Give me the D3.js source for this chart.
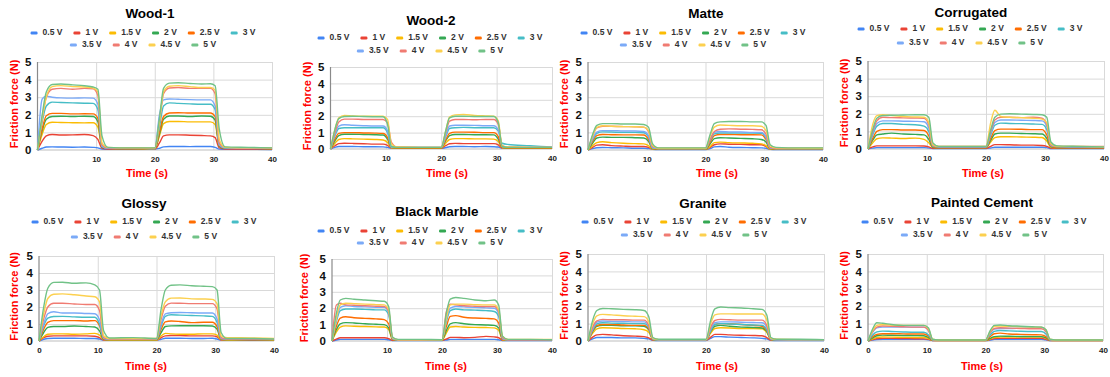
<!DOCTYPE html>
<html>
<head>
<meta charset="utf-8">
<script src="https://cdn.jsdelivr.net/npm/d3@7"></script>
<style>
  body { margin: 0; background: #fff; }
  svg { font-family: "Liberation Sans", Arial, sans-serif; }
</style>
</head>
<body>
<svg id="chart" width="1110" height="377"></svg>
<script>
// sample times (s), shared by every series
const times = [0, 0.8, 1.5, 2.5, 4, 6, 8, 9.5, 10.3, 11, 12, 16, 20, 20.8, 21.5, 22.5, 24, 26, 28, 29.5, 30.3, 31, 32, 36, 40];

const seriesNames = ["0.5 V", "1 V", "1.5 V", "2 V", "2.5 V", "3 V", "3.5 V", "4 V", "4.5 V", "5 V"];
const colors = ["#4285f4", "#ea4335", "#fbbc04", "#34a853", "#ff6d01", "#46bdc6", "#7baaf7", "#f07b72", "#fcd04f", "#71c287"];
const surfaces = ["Wood-1", "Wood-2", "Matte", "Corrugated", "Glossy", "Black Marble", "Granite", "Painted Cement"];
const yTicks = [0, 1, 2, 3, 4, 5];

// friction force (N), one row per voltage
const wood1 = [
  [0, .1, .17, .18, .17, .16, .17, .15, .12, .05, .04, .05, .05, .1, .18, .2, .2, .19, .2, .2, .15, .05, .04, .04, .03],
  [0, .5, .8, .88, .85, .86, .88, .82, .6, .1, .06, .05, .05, .4, .8, .86, .86, .84, .82, .8, .7, .12, .06, .05, .05],
  [0, .9, 1.45, 1.58, 1.56, 1.55, 1.54, 1.55, 1.3, .2, .1, .08, .07, .8, 1.5, 1.62, 1.62, 1.6, 1.6, 1.6, 1.45, .25, .12, .1, .08],
  [0, 1.1, 1.75, 1.9, 1.92, 1.9, 1.92, 1.9, 1.6, .15, .1, .08, .08, .9, 1.75, 1.93, 1.93, 1.9, 1.93, 1.92, 1.7, .2, .1, .1, .08],
  [0, 1.2, 1.95, 2.08, 2.08, 2.05, 2.06, 2.05, 1.8, .2, .1, .1, .08, 1.0, 1.9, 2.1, 2.12, 2.1, 2.1, 2.1, 1.9, .25, .12, .1, .08],
  [0, 1.6, 2.5, 2.72, 2.7, 2.68, 2.66, 2.65, 2.3, .2, .1, .1, .08, 1.3, 2.5, 2.68, 2.65, 2.62, 2.6, 2.6, 2.3, .3, .12, .1, .1],
  [0, 2.9, 3.05, 3.0, 2.96, 2.95, 2.96, 2.95, 2.6, .2, .1, .1, .08, 2.0, 2.85, 2.9, 2.88, 2.86, 2.85, 2.85, 2.5, .3, .12, .1, .1],
  [0, 1.8, 3.0, 3.45, 3.5, 3.45, 3.5, 3.48, 3.1, .3, .12, .1, .1, 1.6, 3.2, 3.52, 3.55, 3.5, 3.5, 3.5, 3.2, .4, .15, .12, .12],
  [0, 1.8, 3.0, 3.6, 3.66, 3.6, 3.58, 3.52, 3.3, .4, .15, .12, .12, 1.6, 3.3, 3.62, 3.66, 3.6, 3.55, 3.55, 3.4, .6, .15, .12, .12],
  [0, 2.0, 3.3, 3.72, 3.75, 3.7, 3.65, 3.58, 3.45, .8, .15, .12, .12, 1.8, 3.5, 3.8, 3.82, 3.78, 3.75, 3.76, 3.65, 1.2, .18, .15, .12]
];
const wood2 = [
  [0, .1, .15, .15, .15, .14, .14, .13, .1, .05, .04, .04, .04, .08, .14, .15, .15, .14, .15, .14, .12, .05, .04, .04, .04],
  [0, .2, .33, .35, .34, .32, .3, .3, .22, .06, .05, .05, .05, .2, .32, .34, .33, .33, .33, .33, .25, .06, .05, .05, .05],
  [0, .35, .58, .63, .62, .6, .58, .55, .4, .08, .06, .06, .06, .35, .58, .63, .63, .62, .62, .6, .45, .08, .06, .06, .06],
  [0, .5, .82, .9, .9, .88, .87, .85, .6, .1, .07, .07, .07, .5, .82, .88, .88, .87, .87, .86, .6, .1, .07, .07, .07],
  [0, .6, .95, 1.0, 1.0, .98, .97, .95, .7, .1, .08, .08, .08, .55, .95, 1.03, 1.03, 1.02, 1.0, 1.0, .75, .1, .08, .08, .08],
  [0, .8, 1.25, 1.3, 1.3, 1.3, 1.3, 1.3, 1.0, .12, .1, .1, .1, .75, 1.25, 1.3, 1.32, 1.3, 1.3, 1.3, 1.1, .35, .28, .2, .12],
  [0, .9, 1.4, 1.48, 1.45, 1.42, 1.4, 1.4, 1.1, .12, .1, .1, .1, .8, 1.4, 1.45, 1.45, 1.44, 1.42, 1.42, 1.15, .15, .1, .1, .1],
  [0, 1.0, 1.65, 1.82, 1.82, 1.8, 1.8, 1.8, 1.6, .4, .12, .1, .1, 1.0, 1.7, 1.8, 1.8, 1.78, 1.8, 1.8, 1.5, .2, .12, .1, .1],
  [0, 1.2, 1.9, 2.05, 2.02, 2.0, 2.0, 2.0, 1.8, .3, .12, .1, .1, 1.1, 1.95, 2.08, 2.1, 2.05, 2.02, 2.0, 1.7, .2, .12, .1, .1],
  [0, 1.2, 1.85, 1.98, 2.0, 1.98, 1.97, 1.97, 1.5, .15, .1, .1, .1, 1.1, 1.9, 2.0, 2.0, 1.98, 1.98, 1.98, 1.6, .15, .1, .1, .1]
];
const matte = [
  [0, .08, .13, .14, .13, .12, .1, .1, .08, .04, .03, .03, .03, .08, .18, .2, .16, .14, .13, .12, .1, .04, .03, .03, .03],
  [0, .15, .28, .3, .25, .22, .2, .2, .15, .05, .04, .04, .04, .15, .3, .35, .33, .32, .3, .3, .2, .05, .04, .04, .04],
  [0, .25, .42, .47, .42, .38, .36, .35, .25, .05, .04, .04, .04, .2, .42, .45, .42, .4, .38, .35, .25, .05, .04, .04, .04],
  [0, .4, .68, .73, .72, .72, .7, .68, .5, .08, .05, .05, .05, .35, .65, .7, .68, .66, .64, .6, .45, .08, .05, .05, .05],
  [0, .5, .82, .88, .87, .86, .86, .85, .6, .1, .06, .06, .06, .45, .82, .88, .88, .87, .87, .86, .6, .1, .06, .06, .06],
  [0, .6, .95, 1.03, 1.02, 1.0, 1.0, .98, .75, .12, .08, .08, .08, .55, .92, .97, .97, .96, .96, .95, .7, .12, .08, .08, .08],
  [0, .65, 1.02, 1.1, 1.1, 1.08, 1.08, 1.05, .8, .12, .08, .08, .08, .6, 1.0, 1.05, 1.03, 1.02, 1.0, 1.0, .75, .12, .08, .08, .08],
  [0, .8, 1.25, 1.35, 1.35, 1.33, 1.32, 1.3, 1.05, .2, .1, .1, .1, .6, 1.05, 1.18, 1.2, 1.18, 1.17, 1.15, .9, .15, .1, .1, .1],
  [0, .8, 1.28, 1.38, 1.35, 1.33, 1.32, 1.3, 1.1, .25, .1, .1, .1, .8, 1.3, 1.42, 1.4, 1.38, 1.38, 1.35, 1.1, .25, .12, .1, .1],
  [0, .9, 1.4, 1.5, 1.5, 1.48, 1.48, 1.45, 1.3, .35, .12, .12, .12, .9, 1.5, 1.6, 1.62, 1.62, 1.6, 1.6, 1.4, .3, .15, .12, .12]
];
const corrugated = [
  [0, .05, .08, .08, .08, .08, .08, .08, .06, .03, .03, .03, .03, .06, .1, .1, .1, .1, .1, .1, .08, .03, .03, .03, .03],
  [0, .12, .18, .18, .18, .18, .18, .17, .12, .04, .04, .04, .04, .15, .25, .25, .24, .22, .22, .2, .15, .05, .04, .04, .04],
  [0, .35, .58, .63, .62, .6, .62, .55, .35, .1, .08, .08, .08, .4, .65, .7, .7, .68, .67, .65, .45, .1, .08, .08, .08],
  [0, .5, .8, .85, .9, .85, .83, .8, .55, .1, .08, .08, .08, .5, .85, .9, .9, .88, .87, .85, .6, .12, .08, .08, .08],
  [0, .6, 1.0, 1.1, 1.1, 1.08, 1.08, 1.05, .75, .12, .1, .1, .1, .6, 1.05, 1.13, 1.13, 1.12, 1.1, 1.1, .8, .15, .1, .1, .1],
  [0, .8, 1.3, 1.45, 1.45, 1.4, 1.38, 1.3, 1.0, .15, .12, .12, .12, .8, 1.35, 1.47, 1.45, 1.44, 1.42, 1.4, 1.1, .2, .12, .12, .12],
  [0, .9, 1.45, 1.6, 1.6, 1.58, 1.57, 1.55, 1.2, .2, .12, .12, .12, .9, 1.5, 1.65, 1.65, 1.63, 1.62, 1.6, 1.3, .2, .15, .12, .12],
  [0, 1.0, 1.6, 1.8, 1.78, 1.77, 1.76, 1.75, 1.4, .2, .15, .15, .15, 1.0, 1.65, 1.8, 1.8, 1.78, 1.8, 1.75, 1.4, .25, .15, .15, .15],
  [0, 1.4, 1.9, 1.95, 1.9, 1.85, 1.82, 1.8, 1.5, .25, .15, .15, .15, 1.5, 2.2, 1.85, 1.8, 1.78, 1.75, 1.7, 1.5, .3, .15, .15, .12],
  [0, 1.1, 1.75, 1.9, 1.92, 1.93, 1.95, 1.95, 1.8, .35, .15, .15, .15, 1.1, 1.8, 1.98, 2.0, 1.98, 1.96, 1.95, 1.8, .4, .18, .15, .12]
];
const glossy = [
  [0, .1, .15, .16, .16, .16, .15, .15, .12, .05, .04, .04, .04, .1, .16, .16, .16, .15, .15, .16, .12, .05, .04, .04, .04],
  [0, .2, .28, .3, .3, .3, .3, .28, .2, .06, .05, .05, .05, .2, .3, .32, .32, .3, .3, .3, .25, .06, .05, .05, .05],
  [0, .25, .4, .42, .42, .4, .42, .45, .35, .08, .06, .06, .06, .3, .45, .42, .4, .4, .42, .42, .35, .08, .06, .08, .06],
  [0, .5, .8, .85, .85, .88, .85, .82, .6, .1, .08, .08, .08, .5, .85, .89, .9, .9, .9, .88, .7, .1, .08, .08, .08],
  [0, .7, 1.1, 1.2, 1.2, 1.2, 1.18, 1.2, .9, .12, .1, .1, .1, .7, 1.12, 1.18, 1.15, 1.08, 1.1, 1.1, .85, .12, .1, .1, .1],
  [0, .9, 1.35, 1.44, 1.45, 1.42, 1.4, 1.4, 1.0, .15, .1, .1, .1, .9, 1.45, 1.54, 1.52, 1.5, 1.48, 1.45, 1.1, .15, .1, .1, .1],
  [0, 1.0, 1.6, 1.72, 1.65, 1.65, 1.62, 1.6, 1.25, .15, .1, .1, .1, 1.0, 1.6, 1.66, 1.68, 1.66, 1.65, 1.65, 1.3, .15, .12, .1, .1],
  [0, 1.3, 2.0, 2.22, 2.22, 2.18, 2.15, 2.15, 1.8, .2, .12, .12, .12, 1.3, 2.05, 2.23, 2.22, 2.2, 2.2, 2.2, 1.9, .2, .12, .12, .12],
  [0, 1.6, 2.5, 2.75, 2.77, 2.72, 2.65, 2.6, 2.3, .3, .15, .15, .15, 1.5, 2.3, 2.52, 2.53, 2.48, 2.47, 2.45, 2.2, .3, .2, .18, .15],
  [0, 2.0, 3.1, 3.45, 3.46, 3.4, 3.42, 3.3, 3.0, .6, .18, .2, .15, 1.9, 3.0, 3.28, 3.3, 3.25, 3.22, 3.2, 3.0, .5, .15, .15, .12]
];
const blackMarble = [
  [0, .06, .1, .1, .1, .1, .1, .1, .08, .03, .03, .03, .03, .06, .1, .1, .1, .1, .1, .1, .08, .03, .03, .03, .03],
  [0, .12, .2, .2, .2, .2, .2, .2, .15, .04, .04, .04, .04, .12, .22, .22, .2, .22, .28, .25, .2, .05, .04, .04, .04],
  [0, .55, .85, .92, .9, .88, .86, .85, .7, .1, .05, .05, .05, .5, .85, .88, .85, .83, .82, .8, .65, .08, .05, .05, .05],
  [0, .7, 1.05, 1.12, 1.1, 1.05, 1.02, 1.0, .8, .1, .06, .06, .06, .65, 1.05, 1.12, 1.05, 1.0, .98, .95, .8, .1, .06, .06, .06],
  [0, .9, 1.4, 1.48, 1.42, 1.38, 1.35, 1.3, 1.05, .12, .06, .06, .06, .9, 1.5, 1.55, 1.45, 1.4, 1.38, 1.35, 1.1, .12, .06, .06, .06],
  [0, 1.2, 1.85, 1.95, 1.95, 1.93, 1.9, 1.9, 1.6, .15, .08, .08, .08, 1.2, 1.85, 1.95, 1.9, 1.88, 1.85, 1.8, 1.5, .15, .08, .08, .08],
  [0, 1.3, 2.05, 2.15, 2.1, 2.08, 2.06, 2.05, 1.75, .15, .08, .08, .08, 1.3, 2.0, 2.1, 2.08, 2.05, 2.02, 2.0, 1.7, .15, .08, .08, .08],
  [0, 2.2, 2.3, 2.2, 2.18, 2.15, 2.12, 2.1, 1.8, .2, .08, .08, .08, 1.8, 2.25, 2.2, 2.15, 2.12, 2.1, 2.1, 1.8, .2, .08, .08, .08],
  [0, 1.4, 2.2, 2.3, 2.28, 2.25, 2.22, 2.2, 1.9, .2, .08, .08, .08, 1.4, 2.2, 2.25, 2.25, 2.22, 2.2, 2.2, 1.9, .3, .1, .1, .1],
  [0, 1.7, 2.5, 2.6, 2.55, 2.5, 2.45, 2.42, 2.1, .25, .1, .1, .08, 1.7, 2.55, 2.65, 2.6, 2.5, 2.45, 2.5, 2.2, .3, .1, .1, .08]
];
const granite = [
  [0, .12, .2, .2, .2, .18, .18, .15, .12, .04, .03, .03, .03, .15, .25, .25, .22, .2, .18, .15, .12, .04, .03, .03, .03],
  [0, .22, .35, .38, .35, .3, .28, .25, .18, .05, .04, .04, .04, .22, .38, .38, .35, .33, .32, .3, .2, .05, .04, .04, .04],
  [0, .45, .7, .76, .75, .72, .7, .65, .5, .08, .05, .05, .05, .45, .72, .76, .75, .72, .72, .7, .5, .08, .05, .05, .05],
  [0, .55, .85, .9, .9, .88, .88, .85, .65, .1, .06, .06, .06, .55, .85, .9, .85, .8, .78, .75, .55, .1, .06, .06, .06],
  [0, .6, .9, .95, .95, .92, .9, .9, .7, .1, .06, .06, .06, .6, .95, 1.0, .98, .95, .9, .85, .6, .1, .06, .06, .06],
  [0, .65, .98, 1.05, 1.03, 1.02, 1.0, 1.0, .78, .1, .06, .06, .06, .6, .95, 1.0, .98, .95, .92, .9, .65, .1, .06, .06, .06],
  [0, .7, 1.08, 1.15, 1.13, 1.12, 1.1, 1.1, .85, .12, .07, .07, .07, .7, 1.05, 1.1, 1.1, 1.08, 1.06, 1.05, .8, .12, .07, .07, .07],
  [0, .8, 1.15, 1.24, 1.22, 1.22, 1.2, 1.2, .9, .15, .08, .08, .08, .8, 1.18, 1.24, 1.22, 1.2, 1.2, 1.2, .9, .15, .08, .08, .08],
  [0, 1.0, 1.45, 1.53, 1.5, 1.45, 1.42, 1.4, 1.1, .15, .08, .08, .08, 1.0, 1.5, 1.56, 1.56, 1.55, 1.55, 1.55, 1.2, .15, .1, .08, .08],
  [0, 1.2, 1.75, 1.87, 1.85, 1.82, 1.8, 1.75, 1.4, .2, .1, .1, .1, 1.2, 1.85, 1.95, 1.92, 1.9, 1.85, 1.82, 1.5, .2, .1, .1, .08]
];
const paintedCement = [
  [0, .05, .08, .1, .1, .1, .1, .1, .07, .03, .02, .02, .02, .05, .1, .1, .1, .1, .1, .1, .07, .02, .02, .02, .02],
  [0, .08, .13, .15, .15, .14, .13, .12, .09, .03, .03, .03, .03, .08, .14, .15, .15, .15, .15, .15, .1, .03, .03, .03, .03],
  [0, .12, .2, .23, .22, .21, .2, .2, .14, .04, .03, .03, .03, .12, .2, .23, .23, .23, .23, .22, .15, .04, .03, .03, .03],
  [0, .18, .3, .34, .33, .32, .31, .3, .2, .05, .04, .04, .04, .15, .25, .28, .27, .26, .25, .25, .18, .05, .04, .04, .04],
  [0, .25, .38, .42, .42, .41, .4, .4, .28, .05, .04, .04, .04, .25, .42, .45, .4, .38, .36, .35, .25, .05, .04, .04, .04],
  [0, .35, .52, .57, .55, .52, .5, .5, .35, .06, .05, .05, .05, .35, .55, .6, .58, .56, .55, .55, .4, .06, .05, .05, .05],
  [0, .5, .75, .8, .8, .8, .8, .8, .6, .08, .05, .05, .05, .45, .68, .72, .72, .74, .76, .8, .55, .08, .05, .05, .05],
  [0, .55, .8, .86, .85, .82, .8, .8, .62, .08, .05, .05, .05, .5, .72, .76, .74, .72, .7, .7, .55, .08, .05, .05, .05],
  [0, .6, .9, .95, .92, .9, .9, .9, .7, .1, .06, .06, .06, .55, .85, .86, .84, .82, .8, .8, .65, .1, .06, .06, .06],
  [0, .7, 1.05, 1.02, .95, .9, .9, .9, .75, .1, .06, .06, .06, .6, .9, .92, .88, .85, .82, .8, .65, .1, .06, .06, .06]
];
const panelData = [wood1, wood2, matte, corrugated, glossy, blackMarble, granite, paintedCement];

// where each small chart sits in the picture
const layout = [
  { l: 37.5, r: 272, t: 62, b: 150, tx: 150, ty: 14, lx: 143, ly: [33, 45], yl: 15, xx: 147, xy: 174, zero: false },
  { l: 330.5, r: 552, t: 67, b: 149, tx: 431, ty: 21, lx: 430, ly: [38, 51], yl: 308, xx: 447, xy: 174, zero: false },
  { l: 588, r: 823, t: 62, b: 150, tx: 706, ty: 14, lx: 693, ly: [33, 45], yl: 565, xx: 717, xy: 174, zero: false },
  { l: 868, r: 1104, t: 61, b: 149, tx: 971, ty: 13, lx: 970, ly: [29, 43], yl: 845, xx: 983, xy: 174, zero: false },
  { l: 39, r: 274, t: 256, b: 341, tx: 144, ty: 204, lx: 144, ly: [222, 237], yl: 15, xx: 146, xy: 367, zero: true },
  { l: 332, r: 552, t: 259, b: 341, tx: 437, ty: 212, lx: 430, ly: [231, 243], yl: 305, xx: 446, xy: 367, zero: false },
  { l: 588, r: 824, t: 254, b: 341, tx: 703, ty: 204, lx: 694, ly: [222, 235], yl: 565, xx: 717, xy: 367, zero: false },
  { l: 868, r: 1103, t: 254, b: 341, tx: 982, ty: 203, lx: 974, ly: [222, 235], yl: 845, xx: 982, xy: 367, zero: true }
];

const svg = d3.select("#chart");

function drawPanel(idx) {
  const L = layout[idx];
  const rows = panelData[idx];
  const g = svg.append("g").attr("class", "panel");

  const x = d3.scaleLinear().domain([0, 40]).range([L.l, L.r]);
  const y = d3.scaleLinear().domain([0, 5]).range([L.b, L.t]);

  // grid
  g.append("g")
    .attr("transform", "translate(0," + L.b + ")")
    .call(d3.axisBottom(x).tickValues([10, 20, 30, 40]).tickSize(-(L.b - L.t)).tickFormat(""))
    .call(a => a.select(".domain").remove())
    .call(a => a.selectAll("line").attr("stroke", "#d9d9d9"));
  g.append("g")
    .attr("transform", "translate(" + L.l + ",0)")
    .call(d3.axisLeft(y).tickValues([1, 2, 3, 4, 5]).tickSize(-(L.r - L.l)).tickFormat(""))
    .call(a => a.select(".domain").remove())
    .call(a => a.selectAll("line").attr("stroke", "#d9d9d9"));

  // axis lines
  g.append("line").attr("x1", L.l).attr("x2", L.l).attr("y1", L.t).attr("y2", L.b)
    .attr("stroke", "#8a8a8a").attr("stroke-width", 1.2);
  g.append("line").attr("x1", L.l).attr("x2", L.r).attr("y1", L.b).attr("y2", L.b)
    .attr("stroke", "#bdbdbd").attr("stroke-width", 1);

  // tick labels
  g.append("g")
    .attr("transform", "translate(" + L.l + ",0)")
    .call(d3.axisLeft(y).tickValues(yTicks).tickFormat(d3.format("d")).tickSize(0).tickPadding(6))
    .call(a => a.select(".domain").remove())
    .call(a => a.selectAll("text").attr("font-size", 11.5).attr("font-weight", "bold").attr("fill", "#111").attr("font-family", "Liberation Sans, Arial, sans-serif"));
  g.append("g")
    .attr("transform", "translate(0," + L.b + ")")
    .call(d3.axisBottom(x).tickValues(L.zero ? [0, 10, 20, 30, 40] : [10, 20, 30, 40]).tickFormat(d3.format("d")).tickSize(0).tickPadding(6))
    .call(a => a.select(".domain").remove())
    .call(a => a.selectAll("text").attr("font-size", 8).attr("font-weight", "bold").attr("fill", "#222").attr("font-family", "Liberation Sans, Arial, sans-serif"));

  // series
  const line = d3.line()
    .x((d, i) => x(times[i]))
    .y(d => y(d))
    .curve(d3.curveMonotoneX);
  rows.forEach((vals, s) => {
    g.append("path")
      .datum(vals)
      .attr("d", line)
      .attr("fill", "none")
      .attr("stroke", colors[s])
      .attr("stroke-width", 1.4)
      .attr("stroke-linejoin", "round");
  });

  // title
  g.append("text")
    .attr("x", L.tx).attr("y", L.ty)
    .attr("text-anchor", "middle").attr("dominant-baseline", "middle")
    .attr("font-size", 13.5).attr("font-weight", "bold").attr("fill", "#000")
    .text(surfaces[idx]);

  // axis titles
  g.append("text")
    .attr("transform", "translate(" + L.yl + "," + ((L.t + L.b) / 2 - 2) + ")rotate(-90)")
    .attr("text-anchor", "middle").attr("dominant-baseline", "middle")
    .attr("font-size", 11).attr("font-weight", "bold").attr("fill", "#ff0000")
    .text("Friction force (N)");
  g.append("text")
    .attr("x", L.xx).attr("y", L.xy)
    .attr("text-anchor", "middle").attr("dominant-baseline", "middle")
    .attr("font-size", 11).attr("font-weight", "bold").attr("fill", "#ff0000")
    .text("Time (s)");

  // legend, two centred rows
  const legendRows = [[0, 1, 2, 3, 4, 5], [6, 7, 8, 9]];
  legendRows.forEach((items, r) => {
    const row = g.append("g");
    let cx = 0;
    items.forEach(s => {
      row.append("rect")
        .attr("x", cx).attr("y", L.ly[r] - 1.4)
        .attr("width", 7).attr("height", 2.8).attr("rx", 1.2)
        .attr("fill", colors[s]);
      const t = row.append("text")
        .attr("x", cx + 12).attr("y", L.ly[r])
        .attr("dominant-baseline", "middle")
        .attr("font-size", 8.5).attr("font-weight", "bold").attr("fill", "#333")
        .text(seriesNames[s]);
      cx += 12 + t.node().getComputedTextLength() + 11;
    });
    const w = cx - 11;
    row.attr("transform", "translate(" + (L.lx - w / 2) + ",0)");
  });
}

surfaces.forEach((s, i) => drawPanel(i));
</script>
</body>
</html>
